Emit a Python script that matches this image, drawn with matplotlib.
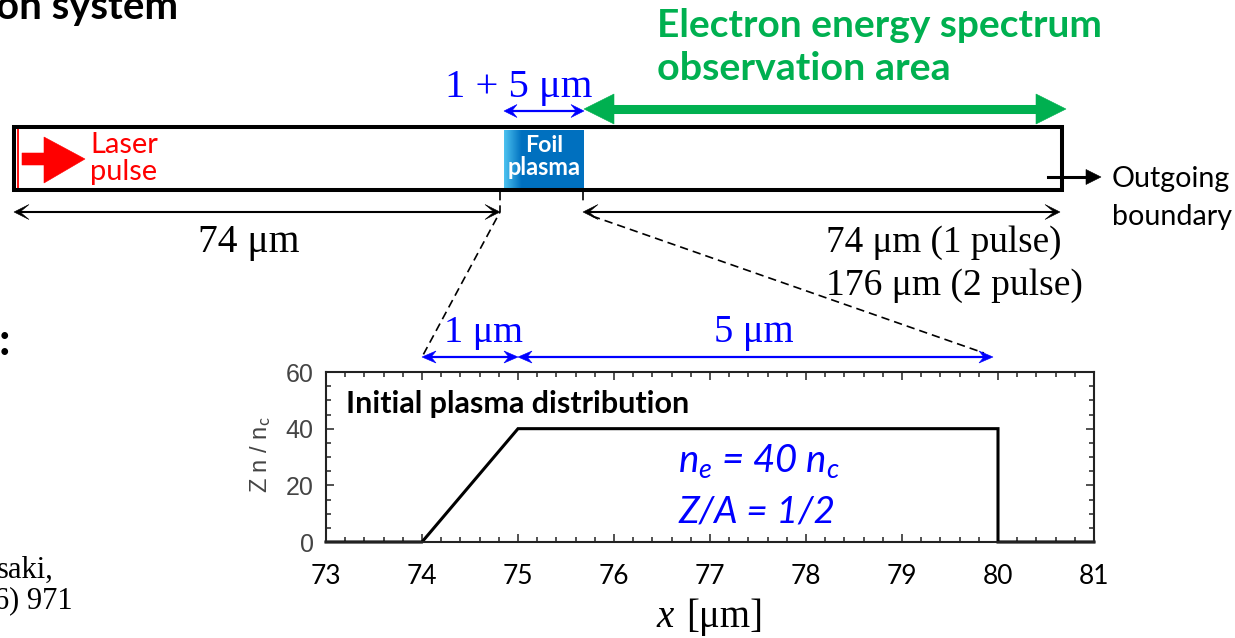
import numpy as np
import matplotlib
matplotlib.use("Agg")
import matplotlib.pyplot as plt
from matplotlib.patches import Polygon, Rectangle
from matplotlib.ticker import MultipleLocator

# ---- initial plasma density profile ----
x_um = [73, 74, 75, 80, 80, 81]
zn_nc = [0, 0, 40, 40, 0, 0]
x_ticks = [73, 74, 75, 76, 77, 78, 79, 80, 81]
y_ticks = [0, 20, 40, 60]

SANS = "Lato"
SERIF = "Liberation Serif"
BLUE = "#0000FF"
GREEN = "#00B050"
RED = "#FF0000"

plt.rcParams["mathtext.fontset"] = "custom"
plt.rcParams["mathtext.rm"] = SANS
plt.rcParams["mathtext.it"] = SANS + ":italic"

W, H = 1235, 638
fig = plt.figure(figsize=(W / 100, H / 100), dpi=100)
fig.patch.set_facecolor("white")

# full-figure canvas in pixel units for the simulation-box sketch
cv = fig.add_axes([0, 0, 1, 1])
cv.set_xlim(0, W)
cv.set_ylim(H, 0)
cv.axis("off")
renderer = fig.canvas.get_renderer()


def label(x, y, s, width=None, ha="left", size=20, **kw):
    t = cv.text(x, y, s, ha=ha, va="baseline", fontsize=size, **kw)
    if width:
        for _ in range(3):
            bb = t.get_window_extent(renderer)
            t.set_fontsize(t.get_fontsize() * width / bb.width)
    return t


def head(xt, yt, dx, dy, L, Wd, notch, color):
    px, py = -dy, dx
    bx, by = xt - dx * L, yt - dy * L
    nx, ny = xt - dx * L * (1 - notch), yt - dy * L * (1 - notch)
    poly = [(xt, yt), (bx + px * Wd / 2, by + py * Wd / 2), (nx, ny),
            (bx - px * Wd / 2, by - py * Wd / 2)]
    cv.add_patch(Polygon(poly, closed=True, fc=color, ec=color, lw=0.4, zorder=5))


def dim_arrow(x0, x1, y, color, lw, L, Wd, notch, left=True, right=True):
    a = x0 + (L * (1 - notch) if left else 0)
    b = x1 - (L * (1 - notch) if right else 0)
    cv.plot([a, b], [y, y], color=color, lw=lw, solid_capstyle="butt", zorder=4)
    if right:
        head(x1, y, 1, 0, L, Wd, notch, color)
    if left:
        head(x0, y, -1, 0, L, Wd, notch, color)


# ---- headings and side text ----
label(178, 19, "on system", width=182, ha="right", family=SANS, weight="bold")
label(657, 37, "Electron energy spectrum", width=445, family=SANS,
      weight="bold", color=GREEN)
label(657, 80, "observation area", width=293, family=SANS, weight="bold",
      color=GREEN)
label(-1, 355, ":", size=32, family=SANS, weight="bold")
label(54, 578, "saki,", size=22, ha="right", family=SERIF)
label(73, 608, "6) 971", size=22, ha="right", family=SERIF)

# ---- simulation box ----
cv.add_patch(Rectangle((14, 127), 1048, 63, fill=False, lw=2.9, ec="black",
                       joinstyle="miter", zorder=6))

# foil plasma with a light leading edge
grad = np.linspace(0, 1, 200)
c0 = np.array([0.30, 0.76, 0.94])
c1 = np.array([0.00, 0.44, 0.75])
mix = np.clip(grad / 0.22, 0, 1)[:, None]
img = (c0 * (1 - mix) + c1 * mix)[None, :, :]
cv.imshow(img, extent=(504, 584, 188, 130), aspect="auto", zorder=3,
          interpolation="bilinear")
cv.set_xlim(0, W)
cv.set_ylim(H, 0)
label(544, 152, "Foil", width=38, ha="center", family=SANS, weight="bold",
      color="white", zorder=7)
label(544, 175, "plasma", width=73, ha="center", family=SANS, weight="bold",
      color="white", zorder=7)

# laser pulse
cv.plot([18, 18], [128, 190], color=RED, lw=1.3, zorder=5)
cv.add_patch(Polygon([(22, 153), (44, 153), (44, 137), (85, 159), (44, 183),
                      (44, 165), (22, 165)], closed=True, fc=RED, ec=RED,
                     lw=0.4, zorder=5))
label(90, 153, "Laser", width=68, family=SANS, color=RED)
label(90, 180, "pulse", width=67, family=SANS, color=RED)

# foil thickness and observation area
dim_arrow(504, 584, 111, BLUE, 1.6, 13, 13, 0.4)
label(445, 97, "1 + 5 \u03bcm", width=147, family=SERIF, color=BLUE)
cv.plot([584 + 28, 1066 - 28], [109, 109], color=GREEN, lw=6.5,
        solid_capstyle="butt", zorder=4)
head(1066, 109, 1, 0, 30, 30, 0, GREEN)
head(584, 109, -1, 0, 30, 30, 0, GREEN)

# outgoing boundary
cv.plot([1048, 1088], [177, 177], color="black", lw=2.2, zorder=7)
head(1101, 177, 1, 0, 15, 15, 0, "black")
label(1112, 187, "Outgoing", width=118, family=SANS)
label(1112, 225, "boundary", width=120, family=SANS)

# vacuum lengths
dim_arrow(14, 500, 212, "black", 1.5, 15, 15, 0.6)
dim_arrow(583, 1060, 212, "black", 1.5, 15, 15, 0.6)
label(249, 252, "74 \u03bcm", width=102, ha="center", family=SERIF)
label(826, 252, "74 \u03bcm (1 pulse)", width=236, family=SERIF)
label(826, 295, "176 \u03bcm (2 pulse)", width=256, family=SERIF)

# zoom guides toward the profile plot
dash = dict(color="black", lw=1.2, dashes=(5, 3), zorder=4)
cv.plot([500, 500, 422], [192, 212, 357], **dash)
cv.plot([583, 583], [192, 205], **dash)
cv.plot([592, 984], [216, 353], **dash)

# ramp and plateau widths
dim_arrow(422, 518, 357, BLUE, 1.6, 14, 12, 0.35)
dim_arrow(518, 993, 357, BLUE, 1.6, 14, 12, 0.35)
label(444, 342, "1 \u03bcm", width=79, family=SERIF, color=BLUE)
label(714, 342, "5 \u03bcm", width=80, family=SERIF, color=BLUE)

# ---- density profile plot ----
ax = fig.add_axes([326 / W, 1 - 542 / H, 768 / W, 170 / H])
ax.set_zorder(2)
ax.plot(x_um, zn_nc, color="black", lw=2.2, clip_on=False,
        solid_joinstyle="miter")
ax.set_xlim(73, 81)
ax.set_ylim(0, 60)
ax.set_xticks(x_ticks)
ax.set_yticks(y_ticks)
ax.xaxis.set_minor_locator(MultipleLocator(0.2))
ax.yaxis.set_minor_locator(MultipleLocator(5))
ax.tick_params(which="both", direction="in", top=True, right=True,
               color="#333333", width=1.2)
ax.tick_params(which="major", length=6)
ax.tick_params(which="minor", length=3.5)
ax.tick_params(axis="x", which="major", pad=16, labelsize=19,
               labelcolor="black")
ax.tick_params(axis="y", which="major", pad=9, labelsize=18,
               labelcolor="#444444")
for lab in ax.get_xticklabels():
    lab.set_family(SANS)
for lab in ax.get_yticklabels():
    lab.set_family("Liberation Sans")
for sp in ax.spines.values():
    sp.set_linewidth(1.5)
    sp.set_color("#222222")

cv.set_zorder(3)
cv.patch.set_alpha(0)

label(346, 413, "Initial plasma distribution", width=344, family=SANS,
      weight="bold", zorder=8)
label(678, 472, r"$n_e$ = 40 $n_c$", width=162, family=SANS,
      style="italic", color=BLUE, zorder=8)
label(678, 522, "Z/A = 1/2", width=157, family=SANS,
      style="italic", color=BLUE, zorder=8)

cv.text(261, 455, r"Z n / n$_\mathrm{c}$", rotation=90, ha="center",
        va="center", fontsize=17, family="Liberation Sans", color="#444444")
label(656, 627, "x", size=28, family=SERIF, style="italic")
label(686, 627, "[\u03bcm]", size=28, family=SERIF)

fig.savefig("out.png", dpi=100, facecolor="white")
